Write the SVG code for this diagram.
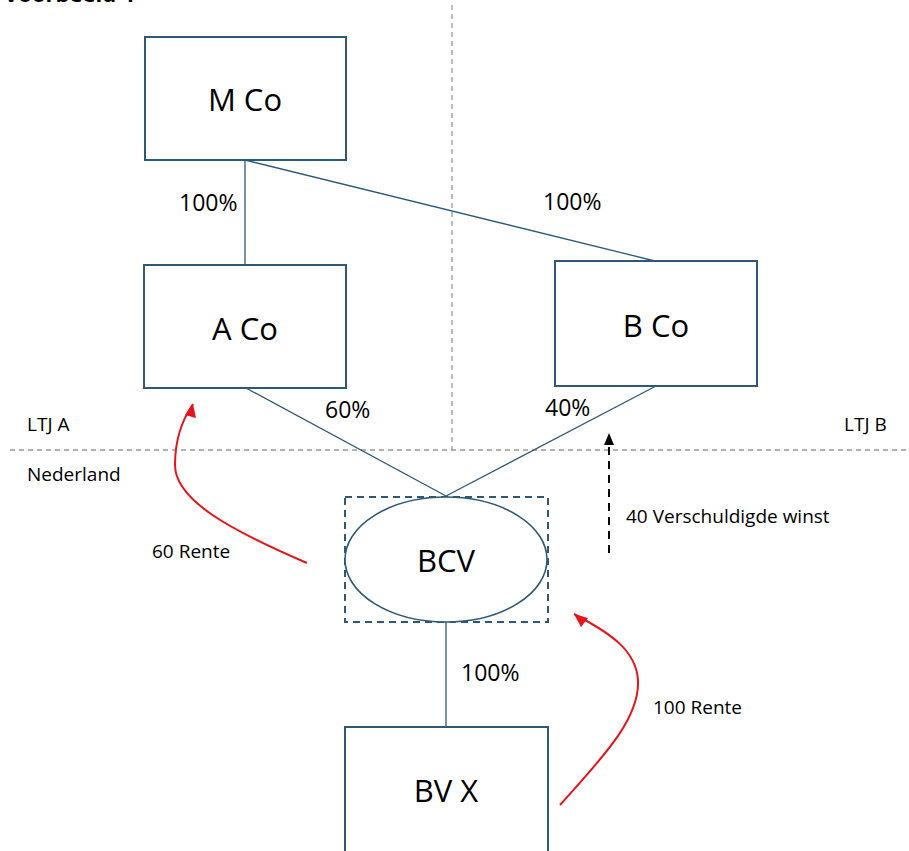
<svg xmlns="http://www.w3.org/2000/svg" width="909" height="851" viewBox="0 0 909 851">
<defs>
<style>
.box{fill:#fff;stroke:#2f5878;stroke-width:2}
.conn{stroke:#2f5878;stroke-width:1.3;fill:none}
.grid{stroke:#999;stroke-width:1.3;stroke-dasharray:5,4;fill:none}
.big{font-family:"Open Sans","Noto Sans","Liberation Sans",sans-serif;font-size:31px;fill:#000;text-anchor:middle}
.pct{font-family:"Open Sans","Noto Sans","Liberation Sans",sans-serif;font-size:23px;fill:#000}
.sm{font-family:"Open Sans","Noto Sans","Liberation Sans",sans-serif;font-size:19px;fill:#000}
.red{stroke:#e8141b;stroke-width:2;fill:none}
</style>
</defs>
<rect width="909" height="851" fill="#fff"/>
<text x="4" y="2" style="font-family:'Open Sans','Liberation Sans',sans-serif;font-size:22px;font-weight:bold">Voorbeeld 4</text>
<g id="grid">
<line class="grid" x1="452" y1="5" x2="452" y2="450"/>
<line class="grid" x1="10" y1="450" x2="909" y2="450"/>
</g>
<g id="connectors">
<line class="conn" x1="245" y1="160" x2="245" y2="265"/>
<line class="conn" x1="245" y1="160" x2="655" y2="261"/>
<line class="conn" x1="246" y1="388" x2="446" y2="496"/>
<line class="conn" x1="656" y1="386" x2="446" y2="496"/>
<line class="conn" x1="446" y1="622" x2="446" y2="727"/>
<path class="red" d="M307,563 C230,530 175,500 175,465 C175,440 182,420 193,404"/>
<path class="red" d="M560,805 C600,760 640,720 638,680 C636,650 610,633 574,614"/>
<path d="M574,614 l14,4 l-7,9 z" fill="#e8141b"/>
<path d="M193,404 l3,14 l-11,-3 z" fill="#e8141b"/>
<line x1="609" y1="553" x2="609" y2="446" stroke="#000" stroke-width="2" stroke-dasharray="8,6"/>
<path d="M609,433 l-5,12 l10,0 z" fill="#000"/>
</g>
<g id="mco">
<rect class="box" x="145" y="37" width="201" height="123"/>
<text class="big" x="245" y="111">M Co</text>
</g>
<g id="aco">
<rect class="box" x="144" y="265" width="202" height="123"/>
<text class="big" x="245" y="340">A Co</text>
</g>
<g id="bco">
<rect class="box" x="555" y="261" width="202" height="125"/>
<text class="big" x="656" y="337">B Co</text>
</g>
<g id="bcv">
<rect x="345" y="497" width="203" height="125" fill="none" stroke="#2f5878" stroke-width="2" stroke-dasharray="7,5"/>
<ellipse cx="446" cy="559.5" rx="101" ry="62.5" fill="#fff" stroke="#2f5878" stroke-width="1.6"/>
<text class="big" x="446" y="572">BCV</text>
</g>
<g id="bvx">
<rect class="box" x="345" y="727" width="203" height="140"/>
<text class="big" x="446" y="802">BV X</text>
</g>
<g id="labels">
<text class="pct" x="179" y="211">100%</text>
<text class="pct" x="543" y="210">100%</text>
<text class="pct" x="325" y="418">60%</text>
<text class="pct" x="545" y="416">40%</text>
<text class="pct" x="461" y="681">100%</text>
<text class="sm" x="27" y="431">LTJ A</text>
<text class="sm" x="844" y="431">LTJ B</text>
<text class="sm" x="27" y="481">Nederland</text>
<text class="sm" x="152" y="558">60 Rente</text>
<text class="sm" x="653" y="714">100 Rente</text>
<text class="sm" x="626" y="523">40 Verschuldigde winst</text>
</g>
</svg>
